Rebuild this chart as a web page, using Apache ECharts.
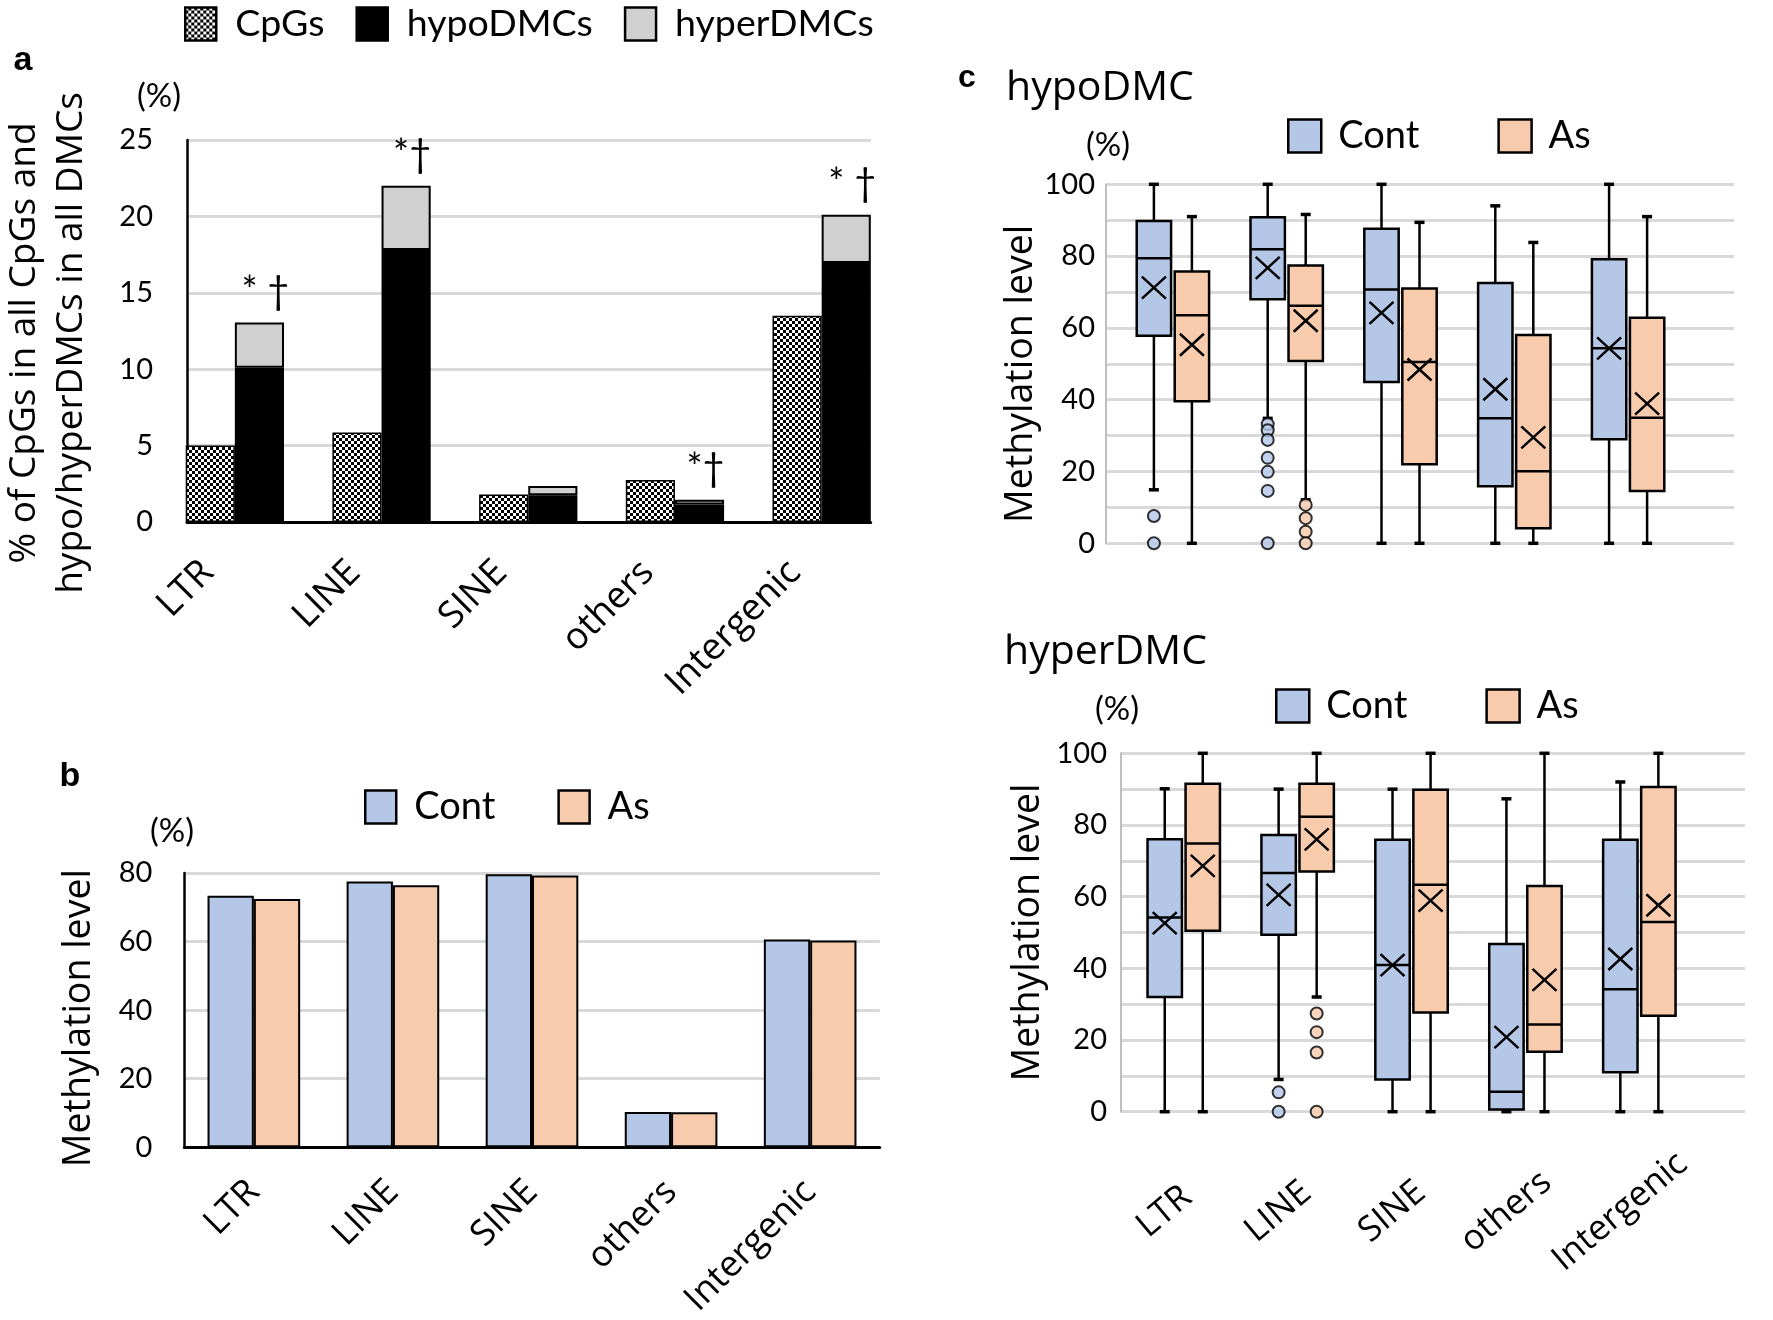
<!DOCTYPE html>
<html><head><meta charset="utf-8">
<script src="https://cdn.jsdelivr.net/npm/echarts@6/dist/echarts.min.js"></script>
<style>html,body{margin:0;padding:0;background:#fff}#main{width:1773px;height:1320px}</style>
</head><body><div id="main"></div>
<script>
// ---------- data ----------
const categories = ['LTR', 'LINE', 'SINE', 'others', 'Intergenic'];
// panel a (%)
const cpgs  = [5.0, 5.85, 1.8, 2.75, 13.5];
const hypoDMCs  = [10.1, 17.8, 1.75, 1.15, 16.95];
const hyperDMCs = [2.95, 4.2, 0.6, 0.3, 3.15];
const marks = ['* \u2020', '*\u2020', '', '*\u2020', '* \u2020'];
// panel b methylation level (%)
const methCont = [73.4, 77.5, 79.6, 10.3, 60.6];
const methAs   = [72.4, 76.4, 79.3, 10.2, 60.3];
// panel c boxes: [min, Q1, median, Q3, max, mean]
const hypoCont = [[14.9,57.8,79.4,89.8,100,71.2],[34.8,68,81.9,90.8,100,76.7],[0,44.9,70.7,87.6,100,64.2],[0,15.9,34.8,72.5,94,42.9],[0,29,54.3,79.1,100,54.3]];
const hypoAs   = [[0,39.6,63.5,75.7,91,55.3],[12.1,50.8,66.2,77.4,91.6,62],[0,22,50.5,71,89.4,48.4],[0,4.2,20.1,58,83.8,29.5],[0,14.6,35,62.8,91,38.9]];
const hyperCont = [[0,32,54.2,76,90.1,52.6],[9,49.4,66.6,77.2,90,60.5],[0,9,40.9,75.9,90,40.9],[0,0.6,5.6,46.8,87.3,20.8],[0,11,34.2,75.9,92,42.6]];
const hyperAs   = [[0,50.5,74.8,91.5,100,68.6],[32,67,82.3,91.5,100,76],[0,27.7,63.3,89.8,100,58.9],[0,16.7,24.3,63,100,36.8],[0,26.8,52.9,90.6,100,57.6]];
// outliers: [category index, value]
const hypoContOut  = [[0,7.6],[0,0],[1,33.2],[1,31.5],[1,28.8],[1,23.8],[1,19.9],[1,14.6],[1,0]];
const hypoAsOut    = [[1,10.7],[1,7],[1,3.2],[1,0]];
const hyperContOut = [[1,5.4],[1,0]];
const hyperAsOut   = [[1,27.4],[1,22.2],[1,16.5],[1,0]];
const pctTicks = [0, 20, 40, 60, 80, 100];

// ---------- styles ----------
const CONT = '#b4c7e7', AS = '#f8cbad', HYPER = '#d0d0d0', GRID = '#d9d9d9';
const NUMFONT = 'Lato', TXTFONT = 'Open Sans';
function checker(){
  const c = document.createElement('canvas'); c.width = 6; c.height = 6;
  const g = c.getContext('2d'); g.fillStyle = '#000'; g.fillRect(0,0,6,6);
  g.fillStyle = '#fff'; g.fillRect(0,0,3,3); g.fillRect(3,3,3,3);
  return c;
}
const cpgFill = {image: checker(), repeat: 'repeat'};

function boxRenderer(fill, off){
  return function(params, api){
    const cat = api.value(0);
    const band = api.size([1,0])[0];
    const cx = api.coord([cat, 0])[0] + off * band;
    const y = k => api.coord([cat, api.value(k)])[1];
    const yMin = y(1), yQ1 = y(2), yMed = y(3), yQ3 = y(4), yMax = y(5), yMean = y(6);
    const hw = band * 0.151, cap = 5, xs = 12, ys = 11;
    const ls = {stroke:'#000', lineWidth:2.5};
    const cs = {stroke:'#000', lineWidth:3.5};
    return {type:'group', children:[
      {type:'line', shape:{x1:cx,y1:yQ3,x2:cx,y2:yMax}, style:ls},
      {type:'line', shape:{x1:cx,y1:yQ1,x2:cx,y2:yMin}, style:ls},
      {type:'line', shape:{x1:cx-cap,y1:yMax,x2:cx+cap,y2:yMax}, style:cs},
      {type:'line', shape:{x1:cx-cap,y1:yMin,x2:cx+cap,y2:yMin}, style:cs},
      {type:'rect', shape:{x:cx-hw,y:yQ3,width:2*hw,height:yQ1-yQ3}, style:{fill:fill, stroke:'#000', lineWidth:2.5}},
      {type:'line', shape:{x1:cx-hw,y1:yMed,x2:cx+hw,y2:yMed}, style:ls},
      {type:'line', shape:{x1:cx-xs,y1:yMean-ys,x2:cx+xs,y2:yMean+ys}, style:ls},
      {type:'line', shape:{x1:cx-xs,y1:yMean+ys,x2:cx+xs,y2:yMean-ys}, style:ls}
    ]};
  };
}
const toBox = arr => arr.map((b, i) => [i].concat(b));
function boxSeries(name, arr, fill, off, axis){
  return {name, type:'custom', xAxisIndex:axis, yAxisIndex:axis, data:toBox(arr),
    encode:{x:0, y:[1,2,3,4,5,6]}, renderItem:boxRenderer(fill, off), clip:false, z:3};
}
function outSeries(name, arr, fill, off, axis){
  return {name, type:'scatter', xAxisIndex:axis, yAxisIndex:axis, data:arr, symbol:'circle', symbolSize:12,
    symbolOffset:[off,0], itemStyle:{color:fill, borderColor:'#000', borderWidth:2}, z:4, silent:true};
}
const hidX = (g) => ({type:'category', gridIndex:g, data:categories, show:false});
const hidY = (g, max) => ({type:'value', gridIndex:g, min:0, max:max, show:false});
const lbl = {fontFamily:NUMFONT, fontSize:29, color:'#000'};
const legText = pad => ({fontFamily:NUMFONT, fontSize:38, color:'#000', padding:[0,0,0,pad]});

const option = {
  backgroundColor:'#fff',
  animation:false,
  grid:[
    {left:185.7, top:140, width:685, height:382},      // 0 a axes
    {left:161.5, top:140, width:733.5, height:382},    // 1 a bars
    {left:184.3, top:873, width:695.4, height:278},    // 2 b
    {left:1106, top:184.3, width:628, height:359},     // 3 c top axes
    {left:1116, top:184.3, width:569, height:359},     // 4 c top boxes
    {left:1121, top:753.3, width:624, height:358.4},   // 5 c bottom axes
    {left:1126.8, top:753.3, width:569.5, height:358.4}// 6 c bottom boxes
  ],
  xAxis:[
    {type:'category', gridIndex:0, data:categories, axisLine:{lineStyle:{color:'#000', width:3}}, axisTick:{show:false}, axisLabel:{show:false}},
    {type:'category', gridIndex:1, data:categories, axisLine:{show:false}, axisTick:{show:false},
      axisLabel:{rotate:45, margin:18, padding:[0,38,0,0], fontFamily:TXTFONT, fontSize:37, color:'#000'}},
    {type:'category', gridIndex:2, data:categories, axisLine:{lineStyle:{color:'#000', width:3}}, axisTick:{show:false},
      axisLabel:{rotate:45, margin:39, fontFamily:TXTFONT, fontSize:36, color:'#000'}},
    hidX(3), hidX(4), hidX(5),
    {type:'category', gridIndex:6, data:categories, axisLine:{show:false}, axisTick:{show:false},
      axisLabel:{rotate:40, align:'center', verticalAlign:'middle', margin:84, padding:[0,50,0,0], fontFamily:TXTFONT, fontSize:35, color:'#000'}}
  ],
  yAxis:[
    {type:'value', gridIndex:0, min:0, max:25, interval:5,
      name:'% of CpGs in all CpGs and\nhypo/hyperDMCs in all DMCs', nameLocation:'middle', nameGap:92,
      nameTextStyle:{fontFamily:TXTFONT, fontSize:37, lineHeight:47, color:'#000', padding:[0,24,0,0]},
      axisLine:{show:true, lineStyle:{color:'#000', width:2.5}}, axisTick:{show:false},
      axisLabel:Object.assign({margin:34}, lbl), splitLine:{lineStyle:{color:GRID, width:3}}},
    hidY(1, 25),
    {type:'value', gridIndex:2, min:0, max:80, interval:20,
      name:'Methylation level', nameLocation:'middle', nameGap:86,
      nameTextStyle:{fontFamily:TXTFONT, fontSize:37.5, color:'#000', padding:[0,16,0,0]},
      axisLine:{show:true, lineStyle:{color:'#000', width:2.5}}, axisTick:{show:false},
      axisLabel:Object.assign({margin:32}, lbl), splitLine:{lineStyle:{color:GRID, width:3}}},
    {type:'value', gridIndex:3, min:0, max:100, interval:10,
      name:'Methylation level', nameLocation:'middle', nameGap:59,
      nameTextStyle:{fontFamily:TXTFONT, fontSize:37.5, color:'#000', padding:[0,20,0,0]},
      axisLine:{show:true, lineStyle:{color:'#bfbfbf', width:2}}, axisTick:{show:false},
      axisLabel:Object.assign({margin:11, formatter:v => pctTicks.includes(v) ? String(v) : ''}, lbl),
      splitLine:{lineStyle:{color:GRID, width:3}}},
    hidY(4, 100),
    {type:'value', gridIndex:5, min:0, max:100, interval:10,
      name:'Methylation level', nameLocation:'middle', nameGap:74,
      nameTextStyle:{fontFamily:TXTFONT, fontSize:37.5, color:'#000'},
      axisLine:{show:true, lineStyle:{color:'#bfbfbf', width:2}}, axisTick:{show:false},
      axisLabel:Object.assign({margin:14, formatter:v => pctTicks.includes(v) ? String(v) : ''}, lbl),
      splitLine:{lineStyle:{color:GRID, width:3}}},
    hidY(6, 100)
  ],
  legend:[
    {left:184, top:5, padding:0, itemWidth:31, itemHeight:33, itemGap:31, icon:'rect',
      textStyle:{fontFamily:NUMFONT, fontSize:37.5, color:'#000', padding:[0,0,0,14]},
      itemStyle:{borderColor:'#000', borderWidth:2.5},
      data:['CpGs','hypoDMCs','hyperDMCs']},
    {left:364, top:788, padding:0, itemWidth:31, itemHeight:33, itemGap:62, icon:'rect',
      textStyle:legText(13),
      data:[{name:'Cont', itemStyle:{color:CONT, borderColor:'#000', borderWidth:2.5}},
            {name:'As', itemStyle:{color:AS, borderColor:'#000', borderWidth:2.5}}]},
    {left:1287, top:117, padding:0, itemWidth:33, itemHeight:33, itemGap:78, icon:'rect',
      textStyle:legText(12),
      data:[{name:'Cont', itemStyle:{color:CONT, borderColor:'#000', borderWidth:2.5}},
            {name:'As', itemStyle:{color:AS, borderColor:'#000', borderWidth:2.5}}]},
    {left:1275, top:687, padding:0, itemWidth:33, itemHeight:33, itemGap:78, icon:'rect',
      textStyle:legText(12),
      data:[{name:'Cont', itemStyle:{color:CONT, borderColor:'#000', borderWidth:2.5}},
            {name:'As', itemStyle:{color:AS, borderColor:'#000', borderWidth:2.5}}]}
  ],
  graphic:[
    {type:'text', x:23, y:61, style:{text:'a', font:'bold 34px "Liberation Sans", Arial', fill:'#000', textAlign:'center', textVerticalAlign:'middle'}},
    {type:'text', x:70, y:777, style:{text:'b', font:'bold 34px "Liberation Sans", Arial', fill:'#000', textAlign:'center', textVerticalAlign:'middle'}},
    {type:'text', x:967, y:78, style:{text:'c', font:'bold 32px "Liberation Sans", Arial', fill:'#000', textAlign:'center', textVerticalAlign:'middle'}},
    {type:'text', x:1006, y:88, style:{text:'hypoDMC', font:'41px "Open Sans"', fill:'#000', textAlign:'left', textVerticalAlign:'middle'}},
    {type:'text', x:1004, y:652, style:{text:'hyperDMC', font:'41px "Open Sans"', fill:'#000', textAlign:'left', textVerticalAlign:'middle'}},
    {type:'text', x:159, y:96, style:{text:'(%)', font:'33px Lato', fill:'#000', textAlign:'center', textVerticalAlign:'middle'}},
    {type:'text', x:172, y:831, style:{text:'(%)', font:'33px Lato', fill:'#000', textAlign:'center', textVerticalAlign:'middle'}},
    {type:'text', x:1108, y:145, style:{text:'(%)', font:'33px Lato', fill:'#000', textAlign:'center', textVerticalAlign:'middle'}},
    {type:'text', x:1117, y:709, style:{text:'(%)', font:'33px Lato', fill:'#000', textAlign:'center', textVerticalAlign:'middle'}}
  ],
  series:[
    {name:'CpGs', type:'bar', xAxisIndex:1, yAxisIndex:1, stack:'cpg', data:cpgs, barGap:'0%', barCategoryGap:'33%',
      itemStyle:{color:cpgFill, borderColor:'#000', borderWidth:1.5}},
    {name:'hypoDMCs', type:'bar', xAxisIndex:1, yAxisIndex:1, stack:'dmc', data:hypoDMCs,
      itemStyle:{color:'#000', borderColor:'#000', borderWidth:1.5}},
    {name:'hyperDMCs', type:'bar', xAxisIndex:1, yAxisIndex:1, stack:'dmc', data:hyperDMCs,
      itemStyle:{color:HYPER, borderColor:'#000', borderWidth:2},
      label:{show:true, position:'top', distance:12, offset:[6,0], formatter:p => marks[p.dataIndex],
        fontFamily:NUMFONT, fontSize:38, color:'#000'}},
    {name:'Cont', type:'bar', xAxisIndex:2, yAxisIndex:2, data:methCont, barGap:'0%', barCategoryGap:'33.4%',
      itemStyle:{color:CONT, borderColor:'#000', borderWidth:2}},
    {name:'As', type:'bar', xAxisIndex:2, yAxisIndex:2, data:methAs,
      itemStyle:{color:AS, borderColor:'#000', borderWidth:2}},
    boxSeries('Cont', hypoCont, CONT, -0.167, 4),
    boxSeries('As', hypoAs, AS, 0.167, 4),
    outSeries('Cont', hypoContOut, CONT, -19, 4),
    outSeries('As', hypoAsOut, AS, 19, 4),
    boxSeries('Cont', hyperCont, CONT, -0.167, 6),
    boxSeries('As', hyperAs, AS, 0.167, 6),
    outSeries('Cont', hyperContOut, CONT, -19, 6),
    outSeries('As', hyperAsOut, AS, 19, 6)
  ]
};
const chart = echarts.init(document.getElementById('main'), null, {renderer:'canvas'});
chart.setOption(option);
</script></body></html>
